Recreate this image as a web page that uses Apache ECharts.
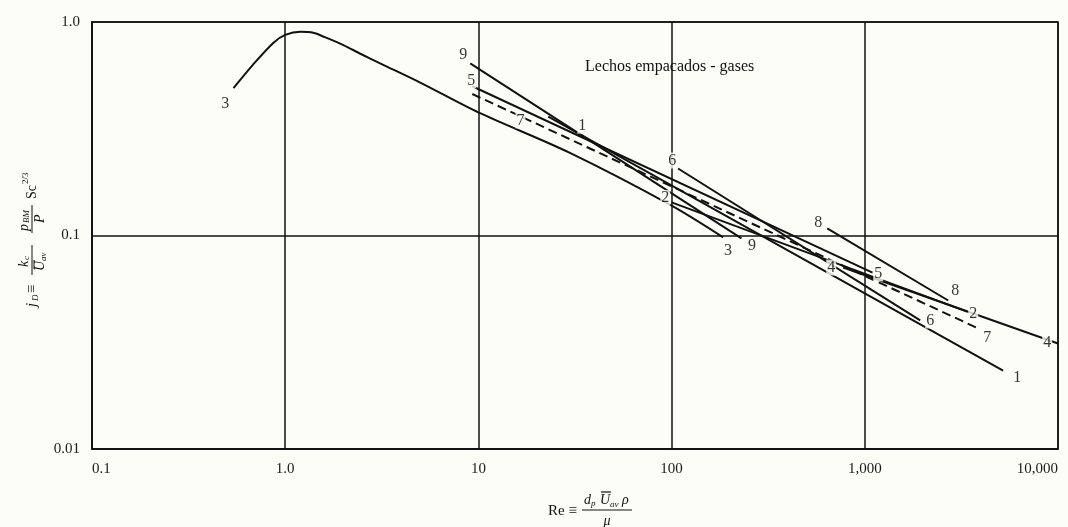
<!DOCTYPE html>
<html><head><meta charset="utf-8">
<script src="https://cdn.jsdelivr.net/npm/echarts@6/dist/echarts.min.js"></script>
<style>html,body{margin:0;padding:0;background:#fdfdf8}#c{width:1068px;height:527px}</style>
</head><body><div id="c"></div>
<script>
// Tick labels
const xTickValues = [0.1, 1, 10, 100, 1000, 10000];
const xTickLabels = ['0.1', '1.0', '10', '100', '1,000', '10,000'];
const yTickValues = [0.01, 0.1, 1];
const yTickLabels = ['0.01', '0.1', '1.0'];

// Curves: [Re, jD]
const curve1 = [[23, 0.36], [5200, 0.0233]];
const curve2 = [[100, 0.143], [3387, 0.044]];
const curve3 = [[0.54, 0.49], [0.68, 0.63], [0.87, 0.80], [1.0, 0.87], [1.2, 0.90], [1.4, 0.89], [1.6, 0.85], [2.0, 0.78], [2.45, 0.71], [3.1, 0.64], [5, 0.52], [10, 0.377], [29.4, 0.245], [100, 0.138], [185, 0.098]];
const curve4 = [[773, 0.0708], [10000, 0.0312]];
const curve5 = [[9.3, 0.50], [1096, 0.067]];
const curve6 = [[108, 0.206], [1936, 0.040]];
const curve7 = [[9.3, 0.46], [3865, 0.0367]];
const curve8 = [[639, 0.108], [2703, 0.0496]];
const curve9 = [[9.07, 0.64], [230, 0.097]];

// Curve number labels: [Re, jD, text]
const curveLabels = [
  [0.489, 0.415, '3'], [8.34, 0.705, '9'], [9.18, 0.532, '5'], [16.5, 0.346, '7'],
  [34.5, 0.327, '1'], [100.7, 0.2245, '6'], [92.7, 0.150, '2'], [196, 0.085, '3'],
  [261, 0.0898, '9'], [574, 0.115, '8'], [670, 0.0708, '4'], [1173, 0.0664, '5'],
  [2938, 0.0552, '8'], [3640, 0.0431, '2'], [2179, 0.040, '6'], [4300, 0.0333, '7'],
  [8790, 0.0315, '4'], [6150, 0.0216, '1']
];

const titleText = 'Lechos empacados - gases';

const INK = '#111111';
const BG = '#fdfdf8';
const SERIF = 'Liberation Serif';

function curveSeries(name, data, dashed) {
  return {
    name: name, type: 'line', data: data, showSymbol: false, symbol: 'none',
    smooth: data.length > 2 ? 0.3 : false, silent: true, z: 3,
    lineStyle: { color: INK, width: 2, type: dashed ? [9, 5] : 'solid' }
  };
}

function tickFmt(values, labels) {
  return function (v) {
    for (let i = 0; i < values.length; i++) {
      if (Math.abs(Math.log10(v) - Math.log10(values[i])) < 1e-6) return labels[i];
    }
    return '';
  };
}

function txt(x, y, text, size, italic, align) {
  return { type: 'text', x: x, y: y, silent: true,
    style: { text: text, fontFamily: SERIF, fontSize: size, fontStyle: italic ? 'italic' : 'normal',
      fill: INK, align: align || 'left', verticalAlign: 'middle' } };
}
function seg(x1, y1, x2, y2, w) {
  return { type: 'line', silent: true, shape: { x1: x1, y1: y1, x2: x2, y2: y2 },
    style: { stroke: INK, lineWidth: w || 1 } };
}

const chart = echarts.init(document.getElementById('c'), null, { renderer: 'canvas' });
chart.setOption({
  animation: false,
  backgroundColor: BG,
  grid: { left: 92, right: 10, top: 22, bottom: 78, containLabel: false, outerBoundsMode: 'none',
    show: true, borderColor: INK, borderWidth: 1.5, backgroundColor: 'transparent' },
  xAxis: {
    type: 'log', logBase: 10, min: xTickValues[0], max: xTickValues[xTickValues.length - 1],
    axisLine: { show: true, lineStyle: { color: INK, width: 1.5 } },
    axisTick: { show: false }, minorTick: { show: false },
    splitLine: { show: true, lineStyle: { color: INK, width: 1.5 } },
    axisLabel: { fontFamily: SERIF, fontSize: 15, color: '#1a1a1a', margin: 13,
      alignMinLabel: 'left', alignMaxLabel: 'right',
      formatter: tickFmt(xTickValues, xTickLabels) }
  },
  yAxis: {
    type: 'log', logBase: 10, min: yTickValues[0], max: yTickValues[yTickValues.length - 1],
    axisLine: { show: true, lineStyle: { color: INK, width: 1.5 } },
    axisTick: { show: false }, minorTick: { show: false },
    splitLine: { show: true, lineStyle: { color: INK, width: 1.5 } },
    axisLabel: { fontFamily: SERIF, fontSize: 15, color: '#1a1a1a', margin: 12, formatter: tickFmt(yTickValues, yTickLabels) }
  },
  series: [
    curveSeries('1', curve1), curveSeries('2', curve2), curveSeries('3', curve3),
    curveSeries('4', curve4), curveSeries('5', curve5), curveSeries('6', curve6),
    curveSeries('7', curve7, true), curveSeries('8', curve8), curveSeries('9', curve9),
    {
      type: 'scatter', data: curveLabels, symbolSize: 1, silent: true, z: 5,
      itemStyle: { color: 'rgba(0,0,0,0)' },
      label: { show: true, position: 'inside', formatter: function (p) { return p.value[2]; },
        fontFamily: SERIF, fontSize: 16, color: '#000', backgroundColor: BG, padding: [0, 1] },
      labelLayout: { hideOverlap: false }
    }
  ],
  graphic: [
    txt(585, 67, titleText, 16, false, 'left'),
    // x-axis name: Re ≡ d_p U_av ρ / μ
    { type: 'group', children: [
      txt(548, 511, 'Re \u2261', 15, false, 'left'),
      seg(582, 510, 632, 510, 1),
      txt(584, 500, 'd', 14, true, 'left'),
      txt(591, 504, 'p', 9, true, 'left'),
      txt(600, 500, 'U', 14, true, 'left'),
      seg(601, 492, 611, 492, 1.2),
      txt(610, 505, 'av', 9, true, 'left'),
      txt(622, 500, '\u03C1', 14, true, 'left'),
      txt(607, 521, '\u03BC', 14, true, 'center')
    ] },
    // y-axis name (rotated): j_D ≡ (k_c/U_av)(p_BM/P) Sc^(2/3)
    { type: 'group', x: 32, y: 237, rotation: Math.PI / 2, children: [
      txt(-70, 0, 'j', 15, true, 'left'),
      txt(-64, 4, 'D', 9, true, 'left'),
      txt(-52, 0, '\u2261', 15, false, 'center'),
      seg(-38, 0, -8, 0, 1),
      txt(-30, -8, 'k', 14, true, 'left'),
      txt(-23, -5, 'c', 9, true, 'left'),
      txt(-34, 8, 'U', 14, true, 'left'),
      seg(-32, 2, -23, 2, 1),
      txt(-24, 12, 'av', 9, true, 'left'),
      seg(4, 0, 32, 0, 1),
      txt(6, -8, 'p', 14, true, 'left'),
      txt(14, -5, 'BM', 9, true, 'left'),
      txt(14, 8, 'P', 14, true, 'left'),
      txt(38, 0, 'Sc', 14, false, 'left'),
      txt(53, -6, '2/3', 9, false, 'left')
    ] }
  ]
});
</script></body></html>
